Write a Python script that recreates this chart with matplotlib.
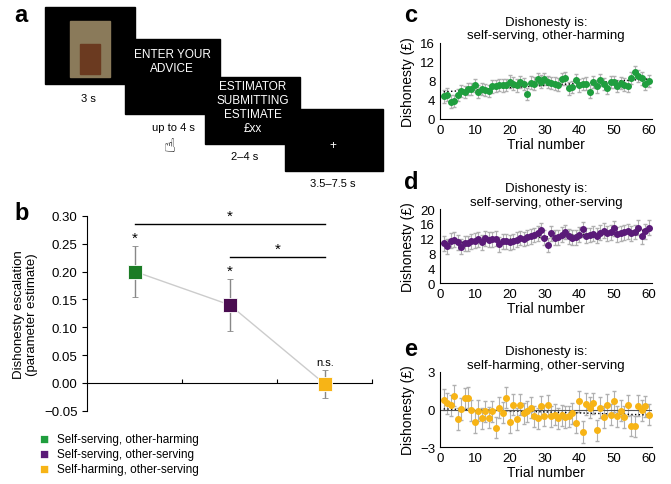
import numpy as np
from matplotlib import pyplot as plt
from matplotlib.patches import Rectangle

plt.rcParams['font.family'] = ['Liberation Sans', 'DejaVu Sans']

GREEN = '#1f9e3e'
PURPLE = '#5a1a78'
ORANGE = '#f7b416'

# panel b data
conditions = ['Self-serving, other-harming', 'Self-serving, other-serving', 'Self-harming, other-serving']
escalation = [0.200, 0.140, -0.002]
escalation_err = [0.045, 0.047, 0.025]

# panels c-e: per-trial means
trials = np.arange(1, 61)
green_vals = [4.7, 5.1, 3.6, 3.8, 5.0, 5.8, 5.6, 6.3, 6.2, 7.0, 5.7, 6.3, 6.1, 5.8, 6.8, 6.9, 7.1, 7.0, 7.1, 7.8,
              7.4, 7.0, 7.7, 7.3, 5.2, 7.6, 7.4, 8.4, 7.8, 8.4, 7.7, 7.5, 7.4, 7.2, 8.3, 8.5, 6.4, 6.7, 8.1, 7.0,
              7.3, 7.4, 5.7, 7.7, 6.8, 8.1, 7.3, 6.5, 7.7, 7.7, 6.9, 7.5, 7.2, 6.9, 8.6, 9.8, 9.0, 8.5, 7.3, 8.0]
purple_vals = [10.8, 10.0, 11.5, 11.7, 11.0, 9.8, 10.8, 10.8, 11.3, 11.5, 11.8, 11.0, 12.1, 11.7, 11.8, 12.0, 10.5, 11.3, 11.3, 11.0,
               11.3, 11.7, 12.2, 11.9, 12.4, 12.7, 13.0, 13.5, 14.3, 12.3, 10.3, 13.5, 12.3, 12.4, 13.1, 13.8, 12.7, 12.3, 12.4, 13.1,
               14.5, 12.8, 13.0, 13.3, 12.8, 13.6, 14.2, 13.5, 13.7, 14.8, 13.2, 13.5, 13.7, 14.0, 13.4, 13.8, 15.0, 12.7, 14.0, 15.0]
orange_vals = [0.8, 0.5, 0.35, 1.1, -0.75, 0.05, 0.9, 0.95, -0.05, -1.0, -0.1, -0.7, -0.15, -0.65, -0.15, -1.45, 0.15, -0.25, 0.95, -1.0,
               0.4, -0.75, 0.4, -0.3, -0.15, 0.15, -0.55, -0.7, 0.25, -0.5, 0.35, -0.55, -0.4, -0.7, -0.45, -0.6, -0.55, -0.3, -1.05, 0.65,
               -1.8, 0.45, 0.15, 0.5, -1.65, 0.15, -0.6, 0.4, -0.4, 0.65, -0.55, -0.1, -0.6, 0.35, -1.3, -1.35, 0.3, -0.05, 0.25, -0.4]
green_err, purple_err, orange_err = 1.3, 2.0, 0.85

fig = plt.figure(figsize=(6.71, 4.85), dpi=100)

# ---- panel a: trial sequence ----
axa = fig.add_axes([0, 0, 1, 1])
axa.set_xlim(0, 671)
axa.set_ylim(485, 0)
axa.axis('off')
boxes = [(45, 8, 90, 77), (125, 40, 95, 75), (205, 78, 95, 67), (285, 110, 98, 62)]
for x, y, w, h in boxes:
    axa.add_patch(Rectangle((x, y), w, h, color='black'))
axa.add_patch(Rectangle((70, 22), 40, 56, color='#8a7a5a'))
axa.add_patch(Rectangle((80, 45), 20, 30, color='#6b3a20'))
axa.text(172, 62, 'ENTER YOUR\nADVICE', color='white', ha='center', va='center', fontsize=8.5)
axa.text(253, 108, 'ESTIMATOR\nSUBMITTING\nESTIMATE\n£xx', color='white', ha='center', va='center', fontsize=8.5)
axa.text(333, 146, '+', color='white', ha='center', va='center', fontsize=8.5)
for x, y, s in [(88, 99, '3 s'), (173, 128, 'up to 4 s'), (245, 157, '2–4 s'), (333, 184, '3.5–7.5 s')]:
    axa.text(x, y, s, ha='center', va='center', fontsize=8)
axa.text(170, 148, '☝', ha='center', va='center', fontsize=14)
for x, y, s in [(14, 16, 'a'), (14, 214, 'b'), (404, 16, 'c'), (404, 183, 'd'), (404, 350, 'e')]:
    axa.text(x, y, s, ha='left', va='center', fontsize=17, fontweight='bold')

# ---- panel b ----
axb = fig.add_axes([0.130, 0.151, 0.425, 0.402])
cols = ['#1b7c25', '#4a0d50', ORANGE]
xs = np.arange(3) + 0.5
axb.plot(xs, escalation, color='#cccccc', lw=1, zorder=1)
for x, v, e, c in zip(xs, escalation, escalation_err, cols):
    axb.errorbar(x, v, yerr=e, fmt='s', color=c, mec='white', mew=0.6, ms=10,
                 ecolor='#888888', elinewidth=1, capsize=2, zorder=3)
axb.plot([xs[0], xs[2]], [0.286, 0.286], color='black', lw=1)
axb.plot([xs[1], xs[2]], [0.226, 0.226], color='black', lw=1)
for x, y in [(1.5, 0.288), (2.0, 0.228), (xs[0], 0.248), (xs[1], 0.188)]:
    axb.text(x, y, '*', ha='center', va='bottom', fontsize=11)
axb.text(xs[2], 0.028, 'n.s.', ha='center', va='bottom', fontsize=8)
axb.set_xlim(0, 3)
axb.set_ylim(-0.05, 0.30)
yt = np.arange(-0.05, 0.31, 0.05)
axb.set_yticks(yt)
axb.set_yticklabels([f'{v:.2f}'.replace('-', '−') for v in yt], fontsize=9.5)
axb.set_xticks([1, 2, 3])
axb.set_xticklabels([])
axb.tick_params(axis='x', direction='in', length=3)
axb.spines['bottom'].set_position(('data', 0))
axb.spines[['top', 'right']].set_visible(False)
axb.set_ylabel('Dishonesty escalation\n(parameter estimate)', fontsize=9.5)
for i, (lab, c) in enumerate(zip(conditions, [GREEN, PURPLE, ORANGE])):
    fig.text(0.058, 0.093 - i * 0.031, '■', color=c, fontsize=11, va='center')
    fig.text(0.085, 0.093 - i * 0.031, lab, fontsize=8.5, va='center')

# ---- panels c-e ----
specs = [
    ([0.656, 0.753, 0.316, 0.157], green_vals, green_err, GREEN, 'self-serving, other-harming', (0, 16), [0, 4, 8, 12, 16]),
    ([0.656, 0.414, 0.316, 0.153], purple_vals, purple_err, PURPLE, 'self-serving, other-serving', (0, 20), [0, 4, 8, 12, 16, 20]),
    ([0.656, 0.076, 0.316, 0.155], orange_vals, orange_err, ORANGE, 'self-harming, other-serving', (-3, 3), [-3, 0, 3]),
]
for rect, vals, err, c, title, ylim, yt in specs:
    ax = fig.add_axes(rect)
    ax.errorbar(trials, vals, yerr=err, fmt='o', color=c, ms=4, ecolor='#b0b0b0', elinewidth=0.8, capsize=1.5)
    slope, icpt = np.polyfit(trials, vals, 1)
    ax.plot(trials, slope * trials + icpt, ':', color='black', lw=1)
    if ylim[0] < 0:
        ax.axhline(0, color='#555555', lw=0.8)
    ax.set_xlim(0, 61)
    ax.set_ylim(*ylim)
    ax.set_yticks(yt)
    ax.set_yticklabels([str(t).replace('-', '−') for t in yt])
    ax.set_xticks(range(0, 61, 10))
    ax.tick_params(labelsize=9.5, length=0)
    ax.spines[['top', 'right']].set_visible(False)
    ax.set_xlabel('Trial number', fontsize=10, labelpad=1)
    ax.set_ylabel('Dishonesty (£)', fontsize=10)
    ax.set_title('Dishonesty is:\n' + title, fontsize=9.5, pad=3)

fig.savefig('out.png', dpi=100)
